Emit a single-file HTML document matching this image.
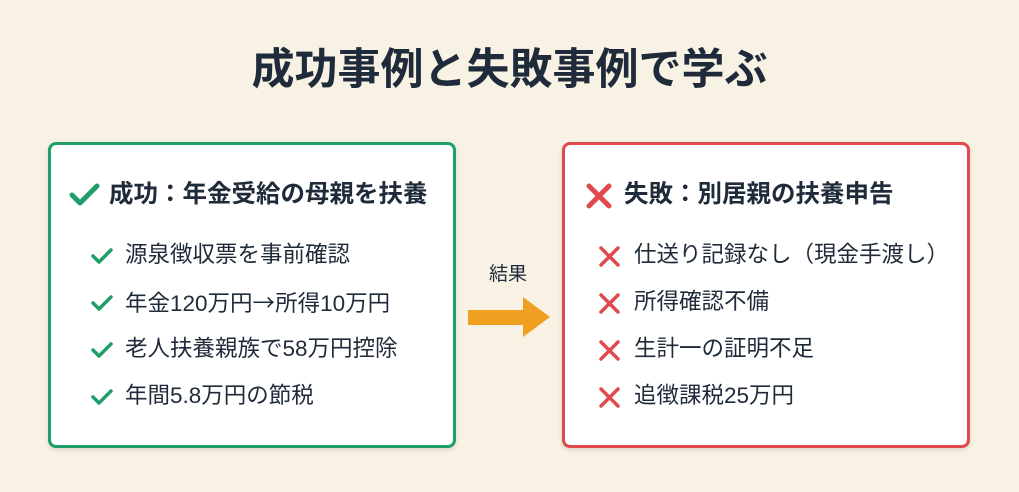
<!DOCTYPE html>
<html><head><meta charset="utf-8"><style>
body{margin:0;width:1019px;height:492px;background:#f7f2e3;position:relative;overflow:hidden;font-family:"Liberation Sans","Noto Sans CJK JP",sans-serif;color:#1f2a3a}
.t{position:absolute;left:0;width:1019px;top:42px;text-align:center;font-size:43px;font-weight:bold;line-height:56px}
.box{position:absolute;top:142px;width:402px;height:300px;background:#fff;border-radius:8px;box-shadow:0 2px 5px rgba(0,0,0,.12)}
.g{left:48px;border:3px solid #1f9e6a}
.r{left:562px;border:3px solid #e04a4c}
.h{position:absolute;font-size:24.5px;font-weight:bold;line-height:30px;top:180px;white-space:nowrap}
.i{position:absolute;font-size:22.5px;line-height:30px;white-space:nowrap}
.ic{position:absolute}
.j{font-family:"Noto Sans CJK JP",sans-serif}
</style></head><body>
<div class="t">成功事例と失敗事例で学ぶ</div>
<div class="box g"></div>
<div class="box r"></div>
<svg class="ic" style="left:68px;top:182px" width="34" height="26"><path d="M4 13 L12 21 L29 4" fill="none" stroke="#1f9e6a" stroke-width="5" stroke-linecap="round" stroke-linejoin="round"/></svg>
<div class="h" style="left:109px">成功：年金受給の母親を扶養</div>
<svg class="ic" style="left:585px;top:182px" width="28" height="28"><path d="M4 4 L24 24 M24 4 L4 24" stroke="#e04a4c" stroke-width="5" stroke-linecap="round"/></svg>
<div class="h" style="left:624px">失敗：別居親の扶養申告</div>

<svg class="ic" style="left:90px;top:246px" width="24" height="20"><path d="M3 10 L9 16 L21 4" fill="none" stroke="#1f9e6a" stroke-width="3.5" stroke-linecap="round" stroke-linejoin="round"/></svg>
<div class="i" style="left:125px;top:240px">源泉徴収票を事前確認</div>
<svg class="ic" style="left:90px;top:293px" width="24" height="20"><path d="M3 10 L9 16 L21 4" fill="none" stroke="#1f9e6a" stroke-width="3.5" stroke-linecap="round" stroke-linejoin="round"/></svg>
<div class="i" style="left:125px;top:287px">年金120万円<span class="j">→</span>所得10万円</div>
<svg class="ic" style="left:90px;top:340px" width="24" height="20"><path d="M3 10 L9 16 L21 4" fill="none" stroke="#1f9e6a" stroke-width="3.5" stroke-linecap="round" stroke-linejoin="round"/></svg>
<div class="i" style="left:125px;top:334px">老人扶養親族で58万円控除</div>
<svg class="ic" style="left:90px;top:387px" width="24" height="20"><path d="M3 10 L9 16 L21 4" fill="none" stroke="#1f9e6a" stroke-width="3.5" stroke-linecap="round" stroke-linejoin="round"/></svg>
<div class="i" style="left:125px;top:381px">年間5.8万円の節税</div>

<svg class="ic" style="left:598px;top:245px" width="24" height="22"><path d="M3 3 L20 20 M20 3 L3 20" stroke="#e04a4c" stroke-width="3.5" stroke-linecap="round"/></svg>
<div class="i" style="left:634px;top:240px">仕送り記録なし（現金手渡し）</div>
<svg class="ic" style="left:598px;top:292px" width="24" height="22"><path d="M3 3 L20 20 M20 3 L3 20" stroke="#e04a4c" stroke-width="3.5" stroke-linecap="round"/></svg>
<div class="i" style="left:634px;top:287px">所得確認不備</div>
<svg class="ic" style="left:598px;top:339px" width="24" height="22"><path d="M3 3 L20 20 M20 3 L3 20" stroke="#e04a4c" stroke-width="3.5" stroke-linecap="round"/></svg>
<div class="i" style="left:634px;top:334px">生計一の証明不足</div>
<svg class="ic" style="left:598px;top:386px" width="24" height="22"><path d="M3 3 L20 20 M20 3 L3 20" stroke="#e04a4c" stroke-width="3.5" stroke-linecap="round"/></svg>
<div class="i" style="left:634px;top:381px">追徴課税25万円</div>

<div style="position:absolute;left:489px;top:263px;font-size:19px;line-height:24px">結果</div>
<svg class="ic" style="left:466px;top:295px" width="88" height="44"><path d="M2 15 H57 V2 L84 22 L57 42 V30 H2 Z" fill="#f0a020"/></svg>
</body></html>
